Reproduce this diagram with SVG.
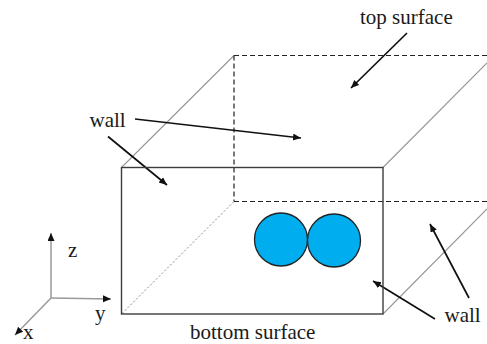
<svg xmlns="http://www.w3.org/2000/svg" width="487" height="344" viewBox="0 0 487 344">
<style>
text{font-family:"Liberation Serif","Times New Roman",serif;font-size:21px;fill:#1a1a1a}
.edge{fill:none;stroke:#3c3c3c;stroke-width:1.4}
.thin{fill:none;stroke:#969696;stroke-width:1.1}
.dash{fill:none;stroke:#222;stroke-width:1.2;stroke-dasharray:5 3}
.dot{fill:none;stroke:#8c8c8c;stroke-width:1;stroke-dasharray:2 2}
.arrow{fill:none;stroke:#111;stroke-width:1.7;marker-end:url(#head)}
.axis{fill:none;stroke:#9a9a9a;stroke-width:1.5;marker-end:url(#axhead)}
.ball{fill:#00aeef;stroke:#222;stroke-width:1.3}
</style>
<defs>
<marker id="head" markerUnits="userSpaceOnUse" markerWidth="10" markerHeight="9" refX="8" refY="3.5" orient="auto"><path d="M0 0L8 3.500L0 7z" fill="#111"/></marker>
<marker id="axhead" markerUnits="userSpaceOnUse" markerWidth="10" markerHeight="9" refX="8" refY="3.5" orient="auto"><path d="M0 0L8 3.500L0 7z" fill="#111"/></marker>
</defs>
<rect width="487" height="344" fill="#fff"/>
<g id="connectors">
<path class="thin" d="M121.500 167.500L234 55.500M383 167.500L487 63M383 314L487 209"/>
<path class="dash" d="M234 55.500H487M234 55.500V201.500M234 201.500H487"/>
<path class="dot" d="M122 313.500L234 201.500"/>
<path class="axis" d="M51 298V233"/>
<path class="axis" d="M51 298L111 299"/>
<path class="axis" d="M51 298L15 335"/>
<path class="arrow" d="M135 119L301 138"/>
<path class="arrow" d="M108 136.500L167 185"/>
<path class="arrow" d="M407 33L351 88"/>
<path class="arrow" d="M469 298L430 224"/>
<path class="arrow" d="M435 319L373 281"/>
</g>
<g id="box"><rect class="edge" x="121.500" y="167.500" width="261.500" height="146.500"/></g>
<g id="ball-1"><circle class="ball" cx="281" cy="239.500" r="26.500"/></g>
<g id="ball-2"><circle class="ball" cx="334" cy="240.500" r="26.500"/></g>
<g id="label-top"><text x="360" y="23.500">top surface</text></g>
<g id="label-wall-left"><text x="89.500" y="127">wall</text></g>
<g id="label-wall-right"><text x="444.500" y="322">wall</text></g>
<g id="label-bottom"><text x="190" y="338.500">bottom surface</text></g>
<g id="label-z"><text x="68" y="257">z</text></g>
<g id="label-y"><text x="95" y="320">y</text></g>
<g id="label-x"><text x="23" y="339">x</text></g>
</svg>
